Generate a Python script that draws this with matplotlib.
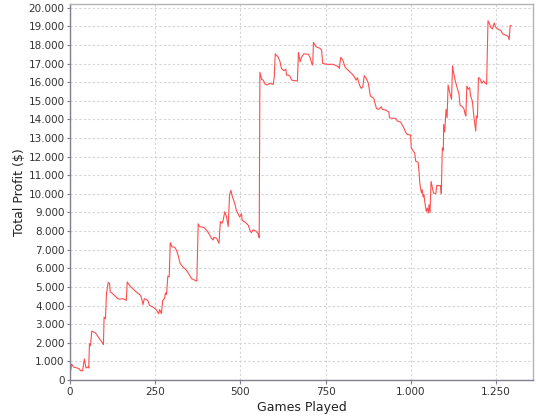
import matplotlib
matplotlib.use("Agg")
import matplotlib.pyplot as plt
from matplotlib.ticker import FuncFormatter, MultipleLocator

games = [0, 5, 10, 20, 28, 30, 37, 42, 47, 53, 55, 57, 60, 64, 75, 87, 94, 98, 100, 104,
         107, 112, 116, 118, 125, 135, 140, 145, 155, 165, 168, 174, 184, 194, 204, 209, 214, 218, 228, 233,
         243, 253, 260, 263, 268, 272, 277, 280, 283, 287, 291, 294, 299, 307, 312, 317, 323, 331, 341, 351,
         356, 366, 372, 376, 380, 393, 400, 407, 415, 420, 422, 430, 437, 441, 446, 449, 454, 459, 464, 468,
         472, 476, 483, 488, 493, 498, 503, 505, 513, 523, 528, 532, 537, 545, 552, 555, 557, 562, 567, 572,
         578, 586, 596, 599, 602, 611, 616, 620, 627, 633, 635, 640, 645, 650, 660, 667, 670, 675, 679, 686,
         699, 704, 709, 712, 714, 721, 728, 733, 738, 741, 753, 772, 787, 790, 794, 800, 807, 817, 826, 834,
         839, 843, 849, 854, 859, 863, 869, 875, 881, 891, 896, 899, 906, 913, 916, 926, 935, 937, 945, 955,
         960, 970, 975, 979, 984, 989, 999, 1001, 1007, 1011, 1014, 1021, 1024, 1026, 1028, 1031, 1033, 1036, 1038, 1041,
         1045, 1048, 1051, 1053, 1056, 1059, 1063, 1066, 1073, 1076, 1082, 1087, 1089, 1092, 1095, 1096, 1099, 1103, 1106, 1109,
         1115, 1119, 1122, 1125, 1129, 1134, 1141, 1144, 1151, 1156, 1159, 1161, 1164, 1168, 1172, 1175, 1180, 1185, 1190, 1192,
         1195, 1198, 1203, 1208, 1213, 1218, 1222, 1226, 1231, 1234, 1239, 1244, 1249, 1254, 1264, 1269, 1278, 1285, 1288, 1291,
         1294]

profit = [300, 860, 700, 650, 600, 500, 500, 1130, 650, 700, 650, 1950, 1850, 2630, 2520, 2200, 2030, 1900, 3380, 3290,
          4640, 5240, 5180, 4730, 4640, 4460, 4370, 4340, 4370, 4280, 5270, 5090, 4910, 4730, 4600, 4460, 4050, 4370, 4280, 4010,
          3920, 3780, 3560, 3780, 3560, 4280, 4370, 4680, 4590, 5580, 5540, 7380, 7160, 7130, 6980, 6710, 6260, 6080, 5900, 5630,
          5450, 5360, 5310, 8390, 8240, 8190, 8060, 7880, 7610, 7520, 7670, 7610, 7340, 8510, 8420, 8570, 9040, 8780, 8240, 9950,
          10190, 9860, 9500, 9110, 8930, 8750, 8930, 8570, 8490, 8310, 8040, 7910, 8070, 8000, 7860, 7640, 16530, 16150, 16110, 15900,
          15850, 15940, 15880, 16260, 17520, 17340, 17100, 16740, 16620, 16700, 16380, 16380, 16330, 16110, 16080, 16060, 17600, 17100, 17340, 17520,
          17500, 17340, 17010, 16920, 18140, 17910, 17860, 17820, 17730, 17010, 16960, 16960, 16830, 16740, 17340, 17190, 16800, 16620, 16470, 16290,
          16110, 16240, 15850, 15670, 15760, 16350, 16200, 15940, 15260, 15130, 14770, 14580, 14540, 14680, 14540, 14500, 14400, 14090, 14060, 14060,
          13910, 13860, 13680, 13550, 13320, 13190, 13160, 12470, 12290, 12200, 11750, 11700, 11120, 10580, 10310, 10050, 10230, 9830, 9960, 9510,
          9060, 9240, 8970, 9420, 9000, 10670, 10310, 10050, 10010, 10460, 10440, 10440, 10010, 12470, 12340, 13730, 13320, 14540, 14090, 15850,
          15350, 15080, 16880, 16520, 16160, 15800, 15350, 14760, 14680, 14540, 14270, 14180, 15800, 15620, 15710, 15260, 14990, 14090, 13370, 14180,
          14090, 16250, 16160, 15940, 16070, 15940, 15890, 19300, 19120, 18950, 18860, 19180, 18950, 18860, 18770, 18590, 18530, 18460, 18280, 19040,
          19040]

plt.rcParams['font.family'] = ['DejaVu Sans']

fig = plt.figure(figsize=(5.4, 4.2), dpi=100)
ax = fig.add_axes([70 / 540, 40 / 420, 463 / 540, 376 / 420])

ax.plot(games, profit, color='#ff4d4d', linewidth=0.8)

ax.set_xlim(0, 1358)
ax.set_ylim(0, 20200)
ax.xaxis.set_major_locator(MultipleLocator(250))
ax.yaxis.set_major_locator(MultipleLocator(1000))

fmt = FuncFormatter(lambda v, p: f"{int(round(v)):,}".replace(",", "."))
ax.xaxis.set_major_formatter(fmt)
ax.yaxis.set_major_formatter(fmt)

ax.grid(True, color='#d4d4d4', linestyle=(0, (2, 2)), linewidth=0.8)
ax.set_axisbelow(True)

for s in ['top', 'right']:
    ax.spines[s].set_color('#b4b4b4')
    ax.spines[s].set_linewidth(1.0)
for s in ['left', 'bottom']:
    ax.spines[s].set_color('#808090')
    ax.spines[s].set_linewidth(1.0)

ax.tick_params(axis='x', direction='out', length=3, width=0.8, color='#808090',
               labelsize=7.5, labelcolor='#333333', pad=2)
ax.tick_params(axis='y', direction='out', length=2, width=0.8, color='#808090',
               labelsize=7.5, labelcolor='#333333', pad=2)

ax.set_xlabel('Games Played', fontsize=9, color='#222222', labelpad=3)
ax.set_ylabel('Total Profit ($)', fontsize=9, color='#222222', labelpad=2)

fig.savefig('out.png', dpi=100)
